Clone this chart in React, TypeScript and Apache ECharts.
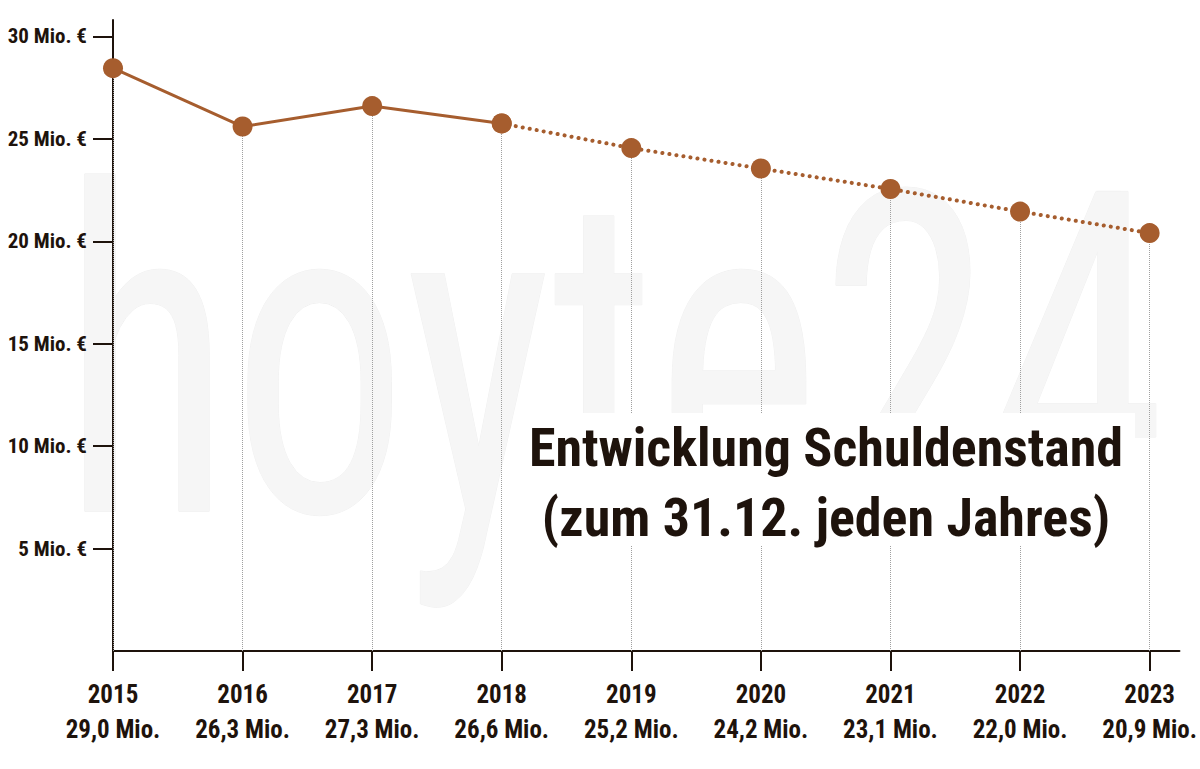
import React, { useEffect, useRef } from "react";
import * as echarts from "echarts";

const years = [2015, 2016, 2017, 2018, 2019, 2020, 2021, 2022, 2023];
const plotted = [28.45, 25.6, 26.6, 25.75, 24.55, 23.55, 22.55, 21.45, 20.4];
const valueLabels = [
  "29,0 Mio.",
  "26,3 Mio.",
  "27,3 Mio.",
  "26,6 Mio.",
  "25,2 Mio.",
  "24,2 Mio.",
  "23,1 Mio.",
  "22,0 Mio.",
  "20,9 Mio.",
];
const yTicks = [5, 10, 15, 20, 25, 30];
const solidUntil = 2018;
const titleLines = ["Entwicklung Schuldenstand", "(zum 31.12. jeden Jahres)"];
const watermark = "hoyte24";

const FONT = "'Liberation Sans Narrow', 'Roboto Condensed', 'DejaVu Sans Condensed', 'Liberation Sans', sans-serif";
const DARK = "#1e130c";
const BROWN = "#a65d2e";

export default function App() {
  const ref = useRef<HTMLDivElement>(null);
  useEffect(() => {
    if (!ref.current) return;
    const chart = echarts.init(ref.current, null, { renderer: "svg" });
    const pts = years.map((y, i) => [y, plotted[i]]);
    const solid = pts.filter((p) => p[0] <= solidUntil);
    const dotted = pts.filter((p) => p[0] >= solidUntil);
    chart.setOption({
      animation: false,
      backgroundColor: "#ffffff",
      textStyle: { fontFamily: FONT },
      grid: { left: 113, right: 12, top: 20, bottom: 118, containLabel: false },
      xAxis: {
        type: "value",
        min: 2015,
        max: 2023.23,
        axisLine: { show: true, lineStyle: { color: DARK, width: 2 } },
        axisTick: {
          show: true,
          length: 20,
          customValues: years,
          lineStyle: { color: DARK, width: 2 },
        },
        axisLabel: {
          customValues: years,
          margin: 26,
          fontFamily: FONT,
          fontSize: 25,
          fontWeight: "bold",
          color: DARK,
          lineHeight: 35,
          formatter: (v: number) => {
            const i = years.indexOf(Math.round(v));
            return i >= 0 ? `${years[i]}\n${valueLabels[i]}` : "";
          },
        },
        splitLine: { show: false },
      },
      yAxis: {
        type: "value",
        min: 0,
        max: 30.8,
        axisLine: { show: true, lineStyle: { color: DARK, width: 2 } },
        axisTick: {
          show: true,
          length: 20,
          customValues: yTicks,
          lineStyle: { color: DARK, width: 2 },
        },
        axisLabel: {
          customValues: yTicks,
          margin: 26,
          fontFamily: FONT,
          fontSize: 21,
          fontWeight: "bold",
          color: DARK,
          formatter: (v: number) => `${v} Mio. €`,
        },
        splitLine: { show: false },
      },
      graphic: [
        {
          type: "text",
          z: -10,
          silent: true,
          x: 62,
          y: 583,
          scaleX: 0.78,
          style: {
            text: watermark,
            fontFamily: FONT,
            fontSize: 450,
            fill: "#f6f6f6",
            stroke: "#eeeeee",
            lineWidth: 1,
            verticalAlign: "bottom",
          },
        },
        {
          type: "rect",
          z: 100,
          silent: true,
          shape: { x: 515, y: 413, width: 620, height: 133 },
          style: { fill: "#ffffff" },
        },
        {
          type: "text",
          z: 101,
          silent: true,
          x: 826,
          y: 482,
          style: {
            text: titleLines.join("\n"),
            fontFamily: FONT,
            fontSize: 54,
            fontWeight: "bold",
            lineHeight: 70,
            fill: DARK,
            align: "center",
            verticalAlign: "middle",
          },
        },
      ],
      series: [
        {
          type: "line",
          data: solid,
          z: 5,
          symbol: "circle",
          symbolSize: 20,
          lineStyle: { color: BROWN, width: 3 },
          itemStyle: { color: BROWN },
        },
        {
          type: "line",
          data: dotted,
          z: 5,
          symbol: "circle",
          symbolSize: 20,
          lineStyle: { color: BROWN, width: 4, type: [0.1, 7], cap: "round" },
          itemStyle: { color: BROWN },
          markLine: {
            silent: true,
            symbol: ["none", "none"],
            label: { show: false },
            lineStyle: { color: "#a0a0a0", width: 1, type: [1, 1] },
            data: years.map((y, i) => [
              { coord: [y, 0] },
              { coord: [y, plotted[i]] },
            ]),
          },
        },
      ],
    });
    return () => chart.dispose();
  }, []);
  return (
    <div
      ref={ref}
      style={{ position: "fixed", left: 0, top: 0, width: 1200, height: 769 }}
    />
  );
}
